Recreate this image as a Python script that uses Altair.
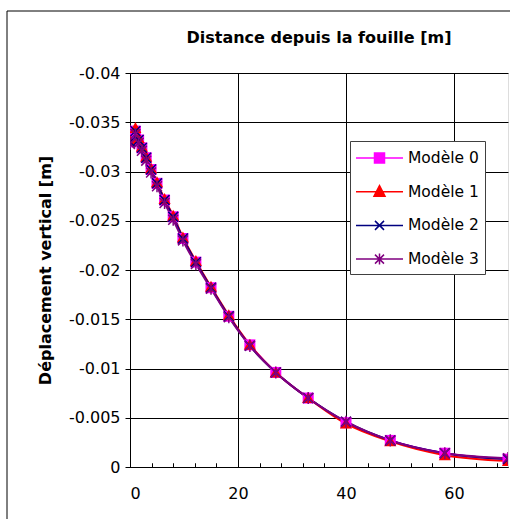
import altair as alt
import pandas as pd

names = ["Modèle 0", "Modèle 1", "Modèle 2", "Modèle 3"]
colors = ["#FF00FF", "#FF0000", "#000080", "#800080"]

x_dist = [0, 1, 1.6, 2.2, 3, 3.9, 5, 6.4, 8, 9.8, 12.2, 15, 18.3, 22.2, 27, 33, 40, 48.2, 58.3, 70]
y_m0 = [-0.0330, -0.0341, -0.0332, -0.0324, -0.0314, -0.0302, -0.0288, -0.0271, -0.0254, -0.0232,
        -0.0208, -0.0182, -0.0153, -0.0124, -0.0096, -0.0070, -0.0045, -0.0027, -0.0014, -0.0008]
y_m1 = [-0.0331, -0.0344, -0.0334, -0.0325, -0.0315, -0.0303, -0.0289, -0.0272, -0.0255, -0.0233,
        -0.0209, -0.0183, -0.0154, -0.0124, -0.0096, -0.0070, -0.0044, -0.0026, -0.0012, -0.0006]
y_m2 = [-0.0330, -0.0341, -0.0332, -0.0324, -0.0314, -0.0302, -0.0288, -0.0271, -0.0254, -0.0232,
        -0.0208, -0.0182, -0.0153, -0.0123, -0.0096, -0.0070, -0.0046, -0.0027, -0.0014, -0.0008]
y_m3 = [-0.0328, -0.0338, -0.0329, -0.0321, -0.0311, -0.0299, -0.0285, -0.0268, -0.0251, -0.0230,
        -0.0206, -0.0181, -0.0152, -0.0123, -0.0096, -0.0070, -0.0046, -0.0027, -0.0014, -0.0009]

x_labels = [0, 20, 40, 60]
x_minor = [0, 4, 8, 12, 16, 20, 24, 28, 32, 36, 40, 44, 48, 52, 56, 60, 64, 68]
y_ticks = [-0.04, -0.035, -0.03, -0.025, -0.02, -0.015, -0.01, -0.005, 0]

title_x = "Distance depuis la fouille [m]"
title_y = "Déplacement vertical [m]"

# marker shapes in the plot
plot_shapes = [
    "M-1,-1H1V1H-1Z",
    "M0,-1.1L1.1,0.9H-1.1Z",
    "M-0.9,-0.9L0.9,0.9M0.9,-0.9L-0.9,0.9",
    "M-0.9,-0.9L0.9,0.9M0.9,-0.9L-0.9,0.9M0,-1.1V1.1",
]
# legend symbols: line + marker
legend_shapes = [
    "M-1.1,0H3.6M0.75,-0.5H1.75V0.5H0.75Z",
    "M-1.1,0H3.6M1.25,-0.6L1.8,0.45H0.7Z",
    "M-1.1,0H3.6M0.8,-0.45L1.7,0.45M1.7,-0.45L0.8,0.45",
    "M-1.1,0H3.6M0.8,-0.45L1.7,0.45M1.7,-0.45L0.8,0.45M1.25,-0.55V0.55",
]
legend_fills = [colors[0], colors[1], "transparent", "transparent"]

rows = []
for name, ys in zip(names, [y_m0, y_m1, y_m2, y_m3]):
    for xv, yv in zip(x_dist, ys):
        rows.append({"serie": name, "x": xv, "y": yv})
df = pd.DataFrame(rows)

FONT = "DejaVu Sans"
W, H = 378, 394

xscale = alt.Scale(domain=[0, 70], nice=False, zero=False)
yscale = alt.Scale(domain=[-0.04, 0], nice=False, reverse=True)
cscale = alt.Scale(domain=names, range=colors)
shape_scale = alt.Scale(domain=names, range=plot_shapes)

y_axis = alt.Axis(values=y_ticks, labelExpr="'' + datum.value", tickSize=5, tickColor="black",
                  domainColor="black", gridColor="black", gridWidth=1, labelPadding=5,
                  labelFont=FONT, labelFontSize=16, labelColor="black",
                  title=title_y, titleFont=FONT, titleFontSize=16, titleFontWeight="bold",
                  titleColor="black", titlePadding=15)
x_axis_main = alt.Axis(values=x_labels, ticks=False, domainColor="black", gridColor="black",
                       gridWidth=1, labelPadding=18, labelFont=FONT, labelFontSize=16,
                       labelColor="black", title=None)
x_axis_minor = alt.Axis(orient="top", offset=-H, values=x_minor, labels=False, domain=False,
                        grid=False, tickSize=4, tickColor="black", title=None)

legend = alt.Legend(
    title=None, orient="none", legendX=220, legendY=68,
    strokeColor="#404040", fillColor="white", padding=6,
    symbolSize=400, symbolStrokeWidth=1.5, labelOffset=30, rowPadding=13.7,
    labelFont=FONT, labelFontSize=15.5, labelColor="black",
)

lines = alt.Chart(df).mark_line(interpolate="monotone", strokeWidth=2, clip=True).encode(
    x=alt.X("x:Q", scale=xscale, axis=x_axis_main),
    y=alt.Y("y:Q", scale=yscale, axis=y_axis),
    color=alt.Color("serie:N", scale=cscale, legend=None),
    detail="serie:N",
)

pts_filled = alt.Chart(df).transform_filter(
    alt.FieldOneOfPredicate(field="serie", oneOf=names[:2])
).mark_point(filled=True, size=121, opacity=1, clip=True).encode(
    x=alt.X("x:Q", scale=xscale, axis=x_axis_minor),
    y=alt.Y("y:Q", scale=yscale, axis=y_axis),
    color=alt.Color("serie:N", scale=cscale, legend=None),
    shape=alt.Shape("serie:N", scale=shape_scale, legend=None),
)

pts_open = alt.Chart(df).transform_filter(
    alt.FieldOneOfPredicate(field="serie", oneOf=names[2:])
).mark_point(filled=False, size=121, strokeWidth=1.5, opacity=1, clip=True).encode(
    x=alt.X("x:Q", scale=xscale, axis=x_axis_minor),
    y=alt.Y("y:Q", scale=yscale, axis=y_axis),
    color=alt.Color("serie:N", scale=cscale, legend=None),
    shape=alt.Shape("serie:N", scale=shape_scale, legend=None),
)

leg = alt.Chart(df).transform_filter("false").mark_point(filled=False, opacity=1).encode(
    shape=alt.Shape("serie:N", scale=alt.Scale(domain=names, range=legend_shapes), legend=legend),
    stroke=alt.Stroke("serie:N", scale=cscale, legend=legend),
    fill=alt.Fill("serie:N", scale=alt.Scale(domain=names, range=legend_fills), legend=legend),
)

# outer chart frame (decoration)
frame = alt.Chart(pd.DataFrame({"a": [0]})).mark_rect(
    fill="transparent", stroke="black", strokeWidth=1, clip=False
).encode(x=alt.value(-123), x2=alt.value(700), y=alt.value(-62), y2=alt.value(700))

chart = alt.layer(frame, lines, pts_filled, pts_open, leg).resolve_axis(
    x="independent"
).resolve_scale(
    shape="independent", stroke="independent", fill="independent"
).resolve_legend(
    shape="independent", stroke="independent", fill="independent"
).properties(
    width=W, height=H,
    autosize=alt.AutoSizeParams(type="none"),
    padding={"left": 130, "top": 73, "right": 2, "bottom": 52},
    title=alt.TitleParams(title_x, font=FONT, fontSize=16, fontWeight="bold", color="black",
                          anchor="middle", frame="group", offset=0, dy=35),
).configure_view(stroke="#808080", strokeWidth=1).configure(background="white")

chart.save("out.html", embed_options={"renderer": "svg", "actions": False})
